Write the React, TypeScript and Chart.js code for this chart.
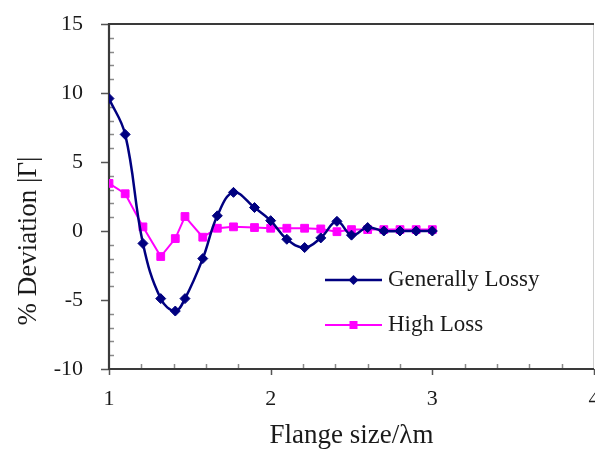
import React, { useEffect, useRef } from 'react';
import { Chart, registerables } from 'chart.js';

Chart.register(...registerables);

// ---- data ----
const flangeSize = [1.0, 1.1, 1.21, 1.32, 1.41, 1.47, 1.58, 1.67, 1.77, 1.9, 2.0, 2.1, 2.21, 2.31, 2.41, 2.5, 2.6, 2.7, 2.8, 2.9, 3.0];
const generallyLossy = [9.6, 7.0, -0.9, -4.9, -5.8, -4.9, -2.0, 1.1, 2.8, 1.7, 0.75, -0.6, -1.2, -0.5, 0.7, -0.3, 0.25, 0.0, 0.0, 0.0, 0.0];
const highLoss = [3.45, 2.7, 0.3, -1.85, -0.55, 1.05, -0.45, 0.2, 0.3, 0.25, 0.2, 0.2, 0.2, 0.15, -0.05, 0.1, 0.1, 0.1, 0.1, 0.1, 0.1];
const seriesNames = ['Generally Lossy', 'High Loss'];
const xTickValues = [1, 2, 3, 4];
const yTickValues = [-10, -5, 0, 5, 10, 15];
const xMinorStep = 0.2;
const yMinorStep = 1;
const xAxisTitle = 'Flange size/λm';
const yAxisTitle = '% Deviation |Γ|';

const FONT = '"Liberation Serif", "Times New Roman", Times, serif';
const X_MIN = xTickValues[0];
const X_MAX = xTickValues[xTickValues.length - 1];
const Y_MIN = yTickValues[0];
const Y_MAX = yTickValues[yTickValues.length - 1];

const framePlugin = {
  id: 'frame',
  beforeDatasetsDraw(chart: any) {
    const { ctx, chartArea: a, scales } = chart;
    const xs = scales.x;
    const ys = scales.y;
    ctx.save();
    // faint right border
    ctx.strokeStyle = '#d0d0d0';
    ctx.lineWidth = 1;
    ctx.beginPath();
    ctx.moveTo(a.right - 0.5, a.top);
    ctx.lineTo(a.right - 0.5, a.bottom);
    ctx.stroke();
    // minor ticks
    ctx.strokeStyle = '#8a8a8a';
    ctx.lineWidth = 1.5;
    ctx.beginPath();
    const nY = Math.round((Y_MAX - Y_MIN) / yMinorStep);
    for (let i = 0; i <= nY; i++) {
      const v = Y_MIN + i * yMinorStep;
      if (yTickValues.includes(v)) continue;
      const p = Math.round(ys.getPixelForValue(v)) + 0.5;
      ctx.moveTo(a.left, p);
      ctx.lineTo(a.left + 5, p);
    }
    const nX = Math.round((X_MAX - X_MIN) / xMinorStep);
    for (let i = 0; i <= nX; i++) {
      const v = X_MIN + i * xMinorStep;
      if (Math.abs(v - Math.round(v)) < 1e-6) continue;
      const p = Math.round(xs.getPixelForValue(v)) + 0.5;
      ctx.moveTo(p, a.bottom);
      ctx.lineTo(p, a.bottom - 5);
    }
    ctx.stroke();
    // major ticks
    ctx.strokeStyle = '#555555';
    ctx.beginPath();
    yTickValues.forEach((v) => {
      const p = Math.round(ys.getPixelForValue(v)) + 0.5;
      ctx.moveTo(a.left - 8, p);
      ctx.lineTo(a.left, p);
    });
    xTickValues.forEach((v) => {
      const p = Math.round(xs.getPixelForValue(v)) + 0.5;
      ctx.moveTo(p, a.bottom);
      ctx.lineTo(p, a.bottom + 6);
    });
    ctx.stroke();
    // frame
    ctx.strokeStyle = '#3a3a3a';
    ctx.lineWidth = 2.2;
    ctx.beginPath();
    ctx.moveTo(a.right, a.top);
    ctx.lineTo(a.left, a.top);
    ctx.lineTo(a.left, a.bottom);
    ctx.lineTo(a.right, a.bottom);
    ctx.stroke();
    ctx.restore();
  },
};

const yTitlePlugin = {
  id: 'yTitle',
  afterDraw(chart: any) {
    const { ctx, chartArea: a } = chart;
    ctx.save();
    ctx.translate(a.left - 80, a.top + 217);
    ctx.rotate(-Math.PI / 2);
    ctx.font = `27px ${FONT}`;
    ctx.fillStyle = '#1a1a1a';
    ctx.textAlign = 'center';
    ctx.textBaseline = 'middle';
    ctx.fillText(yAxisTitle, 0, 0);
    ctx.restore();
  },
};

const legendPlugin = {
  id: 'insideLegend',
  afterDraw(chart: any) {
    const { ctx, chartArea: a } = chart;
    const rows = [a.top + 256, a.top + 301];
    chart.data.datasets.forEach((ds: any, i: number) => {
      const y = rows[i];
      const x0 = a.left + 216;
      const x1 = a.left + 273;
      const xm = (x0 + x1) / 2;
      ctx.save();
      ctx.strokeStyle = ds.borderColor;
      ctx.lineWidth = ds.borderWidth;
      ctx.beginPath();
      ctx.moveTo(x0, y);
      ctx.lineTo(x1, y);
      ctx.stroke();
      ctx.fillStyle = ds.pointBackgroundColor;
      ctx.beginPath();
      if (ds.pointStyle === 'rectRot') {
        const r = 5;
        ctx.moveTo(xm - r, y);
        ctx.lineTo(xm, y - r);
        ctx.lineTo(xm + r, y);
        ctx.lineTo(xm, y + r);
        ctx.closePath();
      } else {
        const s = 4;
        ctx.rect(xm - s, y - s, 2 * s, 2 * s);
      }
      ctx.fill();
      ctx.font = `23px ${FONT}`;
      ctx.fillStyle = '#1a1a1a';
      ctx.textAlign = 'left';
      ctx.textBaseline = 'middle';
      ctx.fillText(ds.label, a.left + 279, y);
      ctx.restore();
    });
  },
};

export default function App() {
  const canvasRef = useRef<HTMLCanvasElement | null>(null);

  useEffect(() => {
    const canvas = canvasRef.current;
    if (!canvas) return;
    const chart = new Chart(canvas, {
      type: 'line',
      data: {
        datasets: [
          {
            label: seriesNames[0],
            data: flangeSize.map((x, i) => ({ x, y: generallyLossy[i] })),
            borderColor: '#000080',
            backgroundColor: '#000080',
            pointBackgroundColor: '#000080',
            pointBorderColor: '#000080',
            borderWidth: 2.5,
            pointStyle: 'rectRot',
            pointRadius: 5,
            pointBorderWidth: 1,
            tension: 0.4,
            fill: false,
          },
          {
            label: seriesNames[1],
            data: flangeSize.map((x, i) => ({ x, y: highLoss[i] })),
            borderColor: '#ff00ff',
            backgroundColor: '#ff00ff',
            pointBackgroundColor: '#ff00ff',
            pointBorderColor: '#ff00ff',
            borderWidth: 2,
            pointStyle: 'rect',
            pointRadius: 5.5,
            pointBorderWidth: 1,
            tension: 0,
            fill: false,
          },
        ],
      },
      options: {
        animation: false,
        responsive: false,
        devicePixelRatio: 1,
        layout: { padding: { top: 24, right: 26, bottom: 0, left: 0 } },
        plugins: {
          legend: { display: false },
          tooltip: { enabled: false },
          title: { display: false },
        },
        scales: {
          x: {
            type: 'linear',
            min: X_MIN,
            max: X_MAX,
            afterBuildTicks: (scale: any) => {
              scale.ticks = xTickValues.map((v) => ({ value: v }));
            },
            ticks: {
              font: { family: FONT, size: 22 },
              color: '#1a1a1a',
              padding: 17,
              maxRotation: 0,
              autoSkip: false,
            },
            grid: { display: false, drawTicks: false },
            border: { display: false },
            title: {
              display: true,
              text: xAxisTitle,
              font: { family: FONT, size: 27 },
              color: '#1a1a1a',
              padding: { top: 0, bottom: 10 },
            },
            afterFit: (scale: any) => {
              scale.height = 93;
              scale.paddingLeft = 0;
              scale.paddingRight = 0;
            },
          },
          y: {
            type: 'linear',
            min: Y_MIN,
            max: Y_MAX,
            afterBuildTicks: (scale: any) => {
              scale.ticks = yTickValues.map((v) => ({ value: v }));
            },
            ticks: {
              font: { family: FONT, size: 22 },
              color: '#1a1a1a',
              padding: 26,
            },
            grid: { display: false, drawTicks: false },
            border: { display: false },
            afterFit: (scale: any) => {
              scale.width = 109;
              scale.paddingTop = 0;
              scale.paddingBottom = 0;
            },
          },
        },
      },
      plugins: [framePlugin, yTitlePlugin, legendPlugin],
    } as any);
    return () => chart.destroy();
  }, []);

  return (
    <div
      style={{
        position: 'fixed',
        left: 0,
        top: 0,
        width: 595,
        height: 462,
        overflow: 'hidden',
        background: '#ffffff',
      }}
    >
      <canvas ref={canvasRef} width={620} height={462} style={{ display: 'block' }} />
    </div>
  );
}
